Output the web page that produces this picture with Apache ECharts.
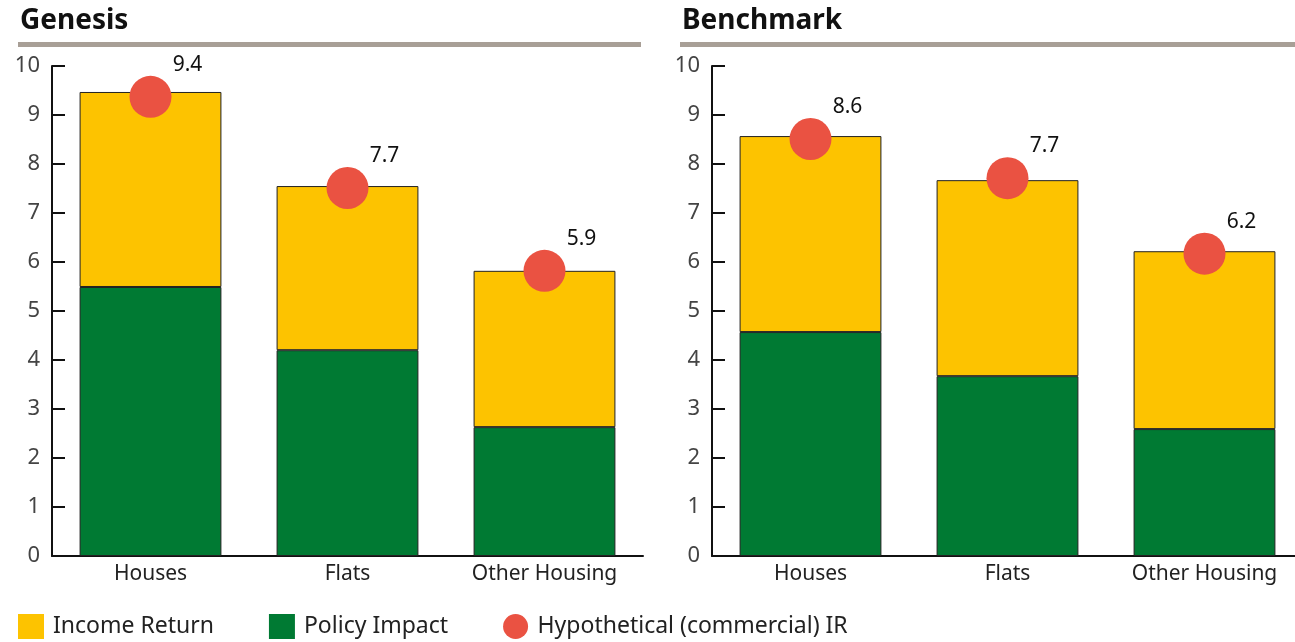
<!DOCTYPE html>
<html>
<head>
<meta charset="utf-8">
<script src="https://cdn.jsdelivr.net/npm/echarts@6/dist/echarts.min.js"></script>
<style>
  html, body { margin: 0; padding: 0; background: #fff; overflow: hidden; }
  /* a bit wider than the window: the right panel runs off the edge in the original */
  #chart { width: 1310px; height: 642px; }
</style>
</head>
<body>
<div id="chart"></div>
<script>
// data
const categories = ["Houses", "Flats", "Other Housing"];

const genesisPolicy = [5.49, 4.2, 2.63];
const genesisIncome = [3.98, 3.35, 3.19];
const genesisIR = [9.37, 7.51, 5.82];       // where the dots sit
const genesisIRLabels = ["9.4", "7.7", "5.9"];

const benchPolicy = [4.57, 3.67, 2.59];
const benchIncome = [4.0, 4.0, 3.63];
const benchIR = [8.51, 7.71, 6.17];
const benchIRLabels = ["8.6", "7.7", "6.2"];

const YELLOW = "#FDC300";
const GREEN = "#007A33";
const RED = "#EA5242";
const FONT = "Noto Sans";

const chart = echarts.init(document.getElementById("chart"));

function xAxis(gridIndex) {
  return {
    type: "category",
    gridIndex: gridIndex,
    data: categories,
    axisLine: { lineStyle: { color: "#111", width: 2 } },
    axisTick: { inside: true, length: 10, lineStyle: { color: "#111", width: 2 } },
    axisLabel: { color: "#222", fontSize: 21, fontFamily: FONT, margin: 8 },
  };
}

function yAxis(gridIndex) {
  return {
    type: "value",
    gridIndex: gridIndex,
    min: 0,
    max: 10,
    interval: 1,
    axisLine: { show: true, lineStyle: { color: "#111", width: 2 } },
    axisTick: { show: true, inside: true, length: 13, lineStyle: { color: "#111", width: 2 } },
    axisLabel: { color: "#444", fontSize: 22, fontFamily: FONT, margin: 12 },
    splitLine: { show: false },
  };
}

function panelSeries(idx, policy, income, ir, irLabels) {
  return [
    {
      name: "Policy Impact",
      type: "bar",
      stack: "s" + idx,
      xAxisIndex: idx,
      yAxisIndex: idx,
      barCategoryGap: "28%",
      data: policy,
      itemStyle: { color: GREEN, borderColor: "#222", borderWidth: 1 },
    },
    {
      name: "Income Return",
      type: "bar",
      stack: "s" + idx,
      xAxisIndex: idx,
      yAxisIndex: idx,
      barCategoryGap: "28%",
      data: income,
      itemStyle: { color: YELLOW, borderColor: "#222", borderWidth: 1 },
    },
    {
      name: "Hypothetical (commercial) IR",
      type: "scatter",
      xAxisIndex: idx,
      yAxisIndex: idx,
      symbolSize: 42,
      z: 5,
      data: ir,
      itemStyle: { color: RED, opacity: 1 },
      label: {
        show: true,
        position: "inside",
        offset: [37, -32],
        color: "#111",
        fontSize: 21,
        fontFamily: FONT,
        formatter: (p) => irLabels[p.dataIndex],
      },
    },
  ];
}

const option = {
  animation: false,
  title: [
    { text: "Genesis", left: 15, top: 2, textStyle: { fontSize: 28, fontWeight: "bold", color: "#111", fontFamily: FONT } },
    { text: "Benchmark", left: 677, top: 2, textStyle: { fontSize: 28, fontWeight: "bold", color: "#111", fontFamily: FONT } },
  ],
  graphic: [
    { type: "rect", shape: { x: 18, y: 42, width: 623, height: 5 }, style: { fill: "#A89F96" } },
    { type: "rect", shape: { x: 680, y: 42, width: 630, height: 5 }, style: { fill: "#A89F96" } },
  ],
  legend: {
    left: 13,
    top: 609,
    itemWidth: 26,
    itemHeight: 25,
    itemGap: 55,
    itemStyle: { borderWidth: 0 },
    textStyle: { fontSize: 23, color: "#222", fontFamily: FONT, padding: [0, 0, 0, 4] },
    data: [
      { name: "Income Return", icon: "rect" },
      { name: "Policy Impact", icon: "rect" },
      { name: "Hypothetical (commercial) IR", icon: "circle" },
    ],
  },
  grid: [
    { left: 52, top: 66, width: 591, height: 490 },
    { left: 712, top: 66, width: 591, height: 490 },
  ],
  xAxis: [xAxis(0), xAxis(1)],
  yAxis: [yAxis(0), yAxis(1)],
  series: [
    ...panelSeries(0, genesisPolicy, genesisIncome, genesisIR, genesisIRLabels),
    ...panelSeries(1, benchPolicy, benchIncome, benchIR, benchIRLabels),
  ],
};

chart.setOption(option);
window.addEventListener("resize", () => chart.resize());
</script>
</body>
</html>
